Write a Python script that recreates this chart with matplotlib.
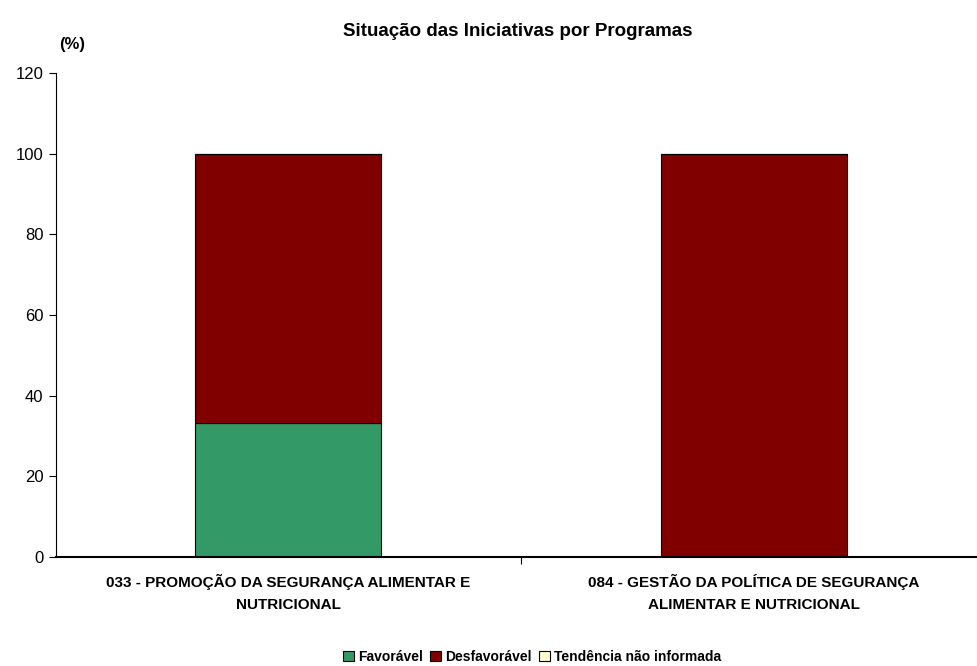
import matplotlib.pyplot as plt
import numpy as np

plt.rcParams["font.family"] = ["Liberation Sans", "DejaVu Sans"]

programas = [
    "033 - PROMOÇÃO DA SEGURANÇA ALIMENTAR E\nNUTRICIONAL",
    "084 - GESTÃO DA POLÍTICA DE SEGURANÇA\nALIMENTAR E NUTRICIONAL",
]
favoravel = [33.33, 0.0]
desfavoravel = [66.67, 100.0]
nao_informada = [0.0, 0.0]

fig = plt.figure(figsize=(9.78, 6.66), dpi=100)
ax = fig.add_axes([56 / 978, 1 - 557 / 666, 930 / 978, 484 / 666])

x = np.arange(len(programas))
w = 0.40
ax.bar(x, favoravel, w, color="#339966", edgecolor="black", linewidth=0.8,
       label="Favorável")
ax.bar(x, desfavoravel, w, bottom=favoravel, color="#800000",
       edgecolor="black", linewidth=0.8, label="Desfavorável")
bottom2 = np.add(favoravel, desfavoravel)
ax.bar(x, nao_informada, w, bottom=bottom2, color="#FFFFCC",
       edgecolor="black", linewidth=0.8, label="Tendência não informada")

ax.set_xlim(-0.5, 1.5)
ax.set_ylim(0, 120)
ax.set_yticks(range(0, 121, 20))
ax.tick_params(axis="y", labelsize=12, length=5, width=0.8, pad=4)
ax.set_xticks([0.5])
ax.set_xticklabels([])
ax.tick_params(axis="x", length=5, width=0.8)
for s in ["top", "right"]:
    ax.spines[s].set_visible(False)
ax.spines["left"].set_linewidth(0.8)
ax.spines["bottom"].set_linewidth(1.5)

for xi, lab in zip(x, programas):
    ax.text(xi, -4.3, lab, ha="center", va="top", fontsize=11,
            fontweight="bold", linespacing=1.65, transform=ax.transData)

fig.text(518 / 978, 1 - 31 / 666, "Situação das Iniciativas por Programas",
         ha="center", va="center", fontsize=13.5, fontweight="bold")
fig.text(72 / 978, 1 - 45 / 666, "(%)", ha="center", va="center",
         fontsize=12, fontweight="bold")

fig.legend(loc="center", bbox_to_anchor=(532 / 978, 1 - 657 / 666), ncol=3,
           frameon=False, prop={"weight": "bold", "size": 10},
           handlelength=0.8, handleheight=0.8, handletextpad=0.3,
           columnspacing=0.5, borderaxespad=0)

fig.savefig("out.png", dpi=100)
